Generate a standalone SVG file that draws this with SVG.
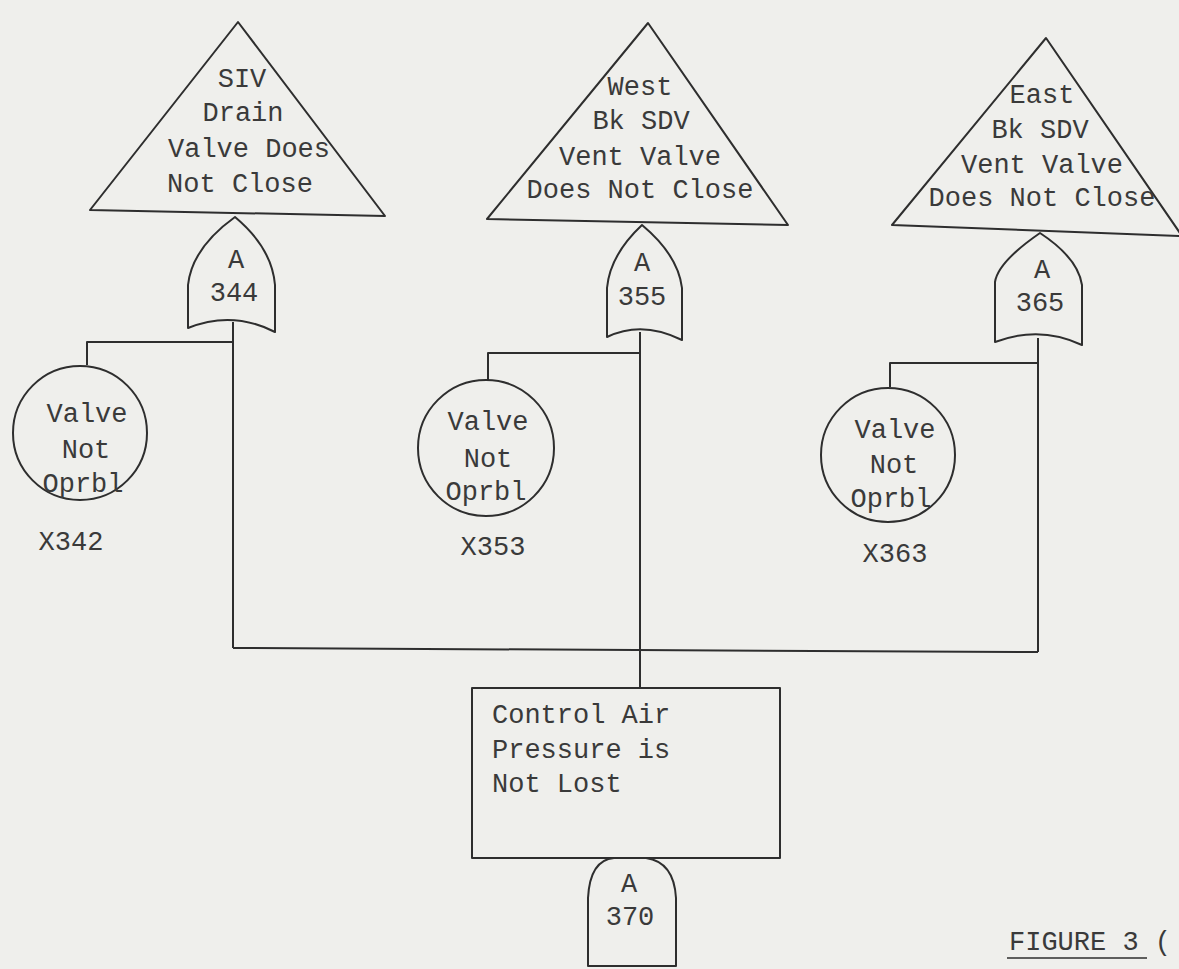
<svg xmlns="http://www.w3.org/2000/svg" width="1179" height="969" viewBox="0 0 1179 969">
<style>
.s{fill:none;stroke:#2e2e2e;stroke-width:2;stroke-linejoin:round}
.t{font-family:"Liberation Mono","DejaVu Sans Mono",monospace;font-size:27px;fill:#3a3a3a;text-anchor:middle}
.l{text-anchor:start}
</style>
<rect width="1179" height="969" fill="#efefec"/>
<g id="connectors" class="s">
<path d="M233,322 V648"/>
<path d="M233,342 H87 V365"/>
<path d="M640,332 V688"/>
<path d="M640,353 H488 V380"/>
<path d="M1038,338 V652"/>
<path d="M1038,363 H890 V387"/>
<path d="M233,648 L1038,652"/>
</g>
<g id="siv">
<path class="s" d="M238,22 L90,210 L385,216 Z"/>
<text class="t" x="242" y="87">SIV</text>
<text class="t" x="243" y="121">Drain</text>
<text class="t" x="249" y="157">Valve Does</text>
<text class="t" x="240" y="192">Not Close</text>
</g>
<g id="west">
<path class="s" d="M648,23 L487,219 L788,225 Z"/>
<text class="t" x="640" y="95">West</text>
<text class="t" x="641" y="129">Bk SDV</text>
<text class="t" x="640" y="165">Vent Valve</text>
<text class="t" x="640" y="198">Does Not Close</text>
</g>
<g id="east">
<path class="s" d="M1046,38 L892,225 L1182,236 Z"/>
<text class="t" x="1042" y="103">East</text>
<text class="t" x="1040" y="138">Bk SDV</text>
<text class="t" x="1042" y="173">Vent Valve</text>
<text class="t" x="1042" y="206">Does Not Close</text>
</g>
<g id="a344">
<path class="s" d="M235,217 Q192,248 188,285 L188,328 Q232,310 275,332 L275,285 Q272,248 235,217 Z"/>
<text class="t" x="236" y="268">A</text>
<text class="t" x="234" y="301">344</text>
</g>
<g id="a355">
<path class="s" d="M642,225 Q610,255 607,288 L607,337 Q642,320 682,340 L682,288 Q678,255 642,225 Z"/>
<text class="t" x="642" y="271">A</text>
<text class="t" x="642" y="305">355</text>
</g>
<g id="a365">
<path class="s" d="M1040,233 Q998,262 995,282 L995,342 Q1040,325 1082,345 L1082,285 Q1078,258 1040,233 Z"/>
<text class="t" x="1042" y="278">A</text>
<text class="t" x="1040" y="311">365</text>
</g>
<g id="x342">
<circle class="s" cx="80" cy="433" r="67"/>
<text class="t" x="87" y="422">Valve</text>
<text class="t" x="86" y="458">Not</text>
<text class="t" x="83" y="492">Oprbl</text>
<text class="t" x="71" y="550">X342</text>
</g>
<g id="x353">
<circle class="s" cx="486" cy="448" r="68"/>
<text class="t" x="488" y="430">Valve</text>
<text class="t" x="488" y="467">Not</text>
<text class="t" x="486" y="500">Oprbl</text>
<text class="t" x="493" y="555">X353</text>
</g>
<g id="x363">
<circle class="s" cx="888" cy="455" r="67"/>
<text class="t" x="895" y="438">Valve</text>
<text class="t" x="894" y="473">Not</text>
<text class="t" x="891" y="507">Oprbl</text>
<text class="t" x="895" y="562">X363</text>
</g>
<g id="control-air">
<rect class="s" x="472" y="688" width="308" height="170"/>
<text class="t l" x="492" y="723">Control Air</text>
<text class="t l" x="492" y="758">Pressure is</text>
<text class="t l" x="492" y="792">Not Lost</text>
</g>
<g id="a370">
<path class="s" d="M588,966 L588,898 Q590,860 614,858 L646,858 Q674,862 676,898 L676,966 Z"/>
<text class="t" x="629" y="892">A</text>
<text class="t" x="630" y="925">370</text>
</g>
<g id="caption">
<text class="t l" x="1009" y="950">FIGURE 3 (</text>
<path class="s" d="M1007,958 H1147" style="stroke-width:1.5"/>
</g>
</svg>
